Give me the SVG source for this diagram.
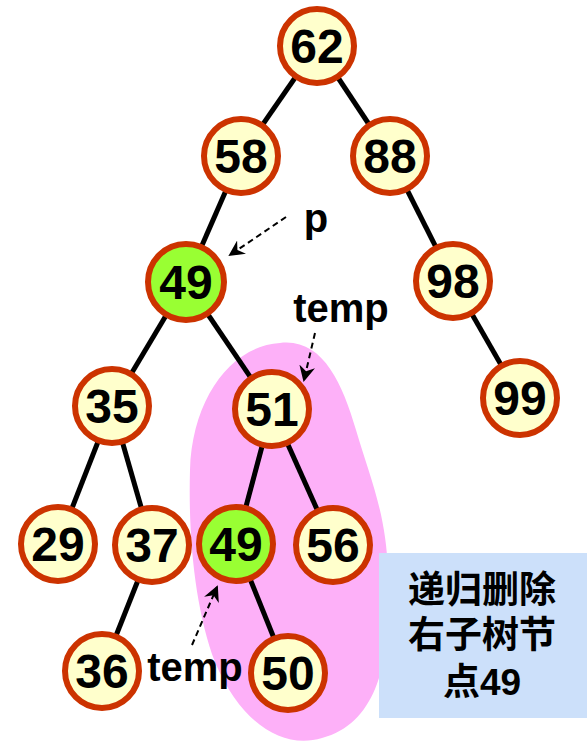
<svg xmlns="http://www.w3.org/2000/svg" width="587" height="744" viewBox="0 0 587 744">
<defs>
<style>
.n circle{fill:#ffffcc;stroke:#cc3300;stroke-width:6}
.n.g circle{fill:#99ff33}
.n text{font-family:"Liberation Sans",Arial,sans-serif;font-weight:bold;font-size:48px;text-anchor:middle;fill:#000}
.e line{stroke:#000;stroke-width:5}
.lbl{font-family:"Liberation Sans",Arial,sans-serif;font-weight:bold;font-size:40px;fill:#000}
.ptr{stroke:#000;stroke-width:2;stroke-dasharray:6 4;fill:none;marker-end:url(#ah)}
.box text{font-family:"Liberation Sans","Noto Sans CJK SC",sans-serif;font-weight:bold;font-size:37px;text-anchor:middle;fill:#000}
</style>
<marker id="ah" markerWidth="8" markerHeight="8" refX="7" refY="4" orient="auto" markerUnits="strokeWidth">
<path d="M0,0 L8,4 L0,8 L2.5,4 Z" fill="#000"/>
</marker>
</defs>
<rect width="587" height="744" fill="#fff"/>
<path id="blob" d="M280 343 C322 338 342 382 356 430 C370 478 386 512 388 572 C392 650 382 722 322 738 C282 750 240 722 215 662 C196 612 188 542 190 470 C192 400 230 346 280 343 Z" fill="#fdb0f8"/>
<g id="connectors" class="e">
<line x1="317" y1="46" x2="241" y2="156"/>
<line x1="317" y1="46" x2="390" y2="156"/>
<line x1="241" y1="156" x2="186" y2="282"/>
<line x1="390" y1="156" x2="453" y2="281"/>
<line x1="186" y1="282" x2="112" y2="406"/>
<line x1="186" y1="282" x2="272" y2="409"/>
<line x1="453" y1="281" x2="520" y2="398"/>
<line x1="112" y1="406" x2="58" y2="544"/>
<line x1="112" y1="406" x2="152" y2="545"/>
<line x1="152" y1="545" x2="102" y2="671"/>
<line x1="272" y1="409" x2="236" y2="544"/>
<line x1="272" y1="409" x2="333" y2="545"/>
<line x1="236" y1="544" x2="288" y2="673"/>
</g>
<g id="pointers">
<line class="ptr" x1="286" y1="217" x2="230" y2="255"/>
<line class="ptr" x1="315" y1="333" x2="304" y2="380"/>
<line class="ptr" x1="192" y1="645" x2="217" y2="587"/>
</g>
<g id="n62" class="n"><circle cx="317" cy="46" r="37"/><text x="317" y="63">62</text></g>
<g id="n58" class="n"><circle cx="241" cy="156" r="37"/><text x="241" y="173">58</text></g>
<g id="n88" class="n"><circle cx="390" cy="156" r="37"/><text x="390" y="173">88</text></g>
<g id="n49a" class="n g"><circle cx="186" cy="282" r="38"/><text x="186" y="299">49</text></g>
<g id="n98" class="n"><circle cx="453" cy="281" r="37"/><text x="453" y="298">98</text></g>
<g id="n35" class="n"><circle cx="112" cy="406" r="37"/><text x="112" y="423">35</text></g>
<g id="n51" class="n"><circle cx="272" cy="409" r="37"/><text x="272" y="426">51</text></g>
<g id="n99" class="n"><circle cx="520" cy="398" r="37"/><text x="520" y="415">99</text></g>
<g id="n29" class="n"><circle cx="58" cy="544" r="37"/><text x="58" y="561">29</text></g>
<g id="n37" class="n"><circle cx="152" cy="545" r="37"/><text x="152" y="562">37</text></g>
<g id="n49b" class="n g"><circle cx="236" cy="544" r="37"/><text x="236" y="561">49</text></g>
<g id="n56" class="n"><circle cx="333" cy="545" r="37"/><text x="333" y="562">56</text></g>
<g id="n36" class="n"><circle cx="102" cy="671" r="37"/><text x="102" y="688">36</text></g>
<g id="n50" class="n"><circle cx="288" cy="673" r="37"/><text x="288" y="690">50</text></g>
<g id="labels">
<text class="lbl" x="316" y="232" text-anchor="middle">p</text>
<text class="lbl" x="341" y="322" text-anchor="middle">temp</text>
<text class="lbl" x="195" y="681" text-anchor="middle">temp</text>
</g>
<g id="box" class="box">
<rect x="379" y="553" width="208" height="165" fill="#cce0fa"/>
<text x="482" y="603">递归删除</text>
<text x="482" y="648">右子树节</text>
<text x="482" y="695">点49</text>
</g>
</svg>
